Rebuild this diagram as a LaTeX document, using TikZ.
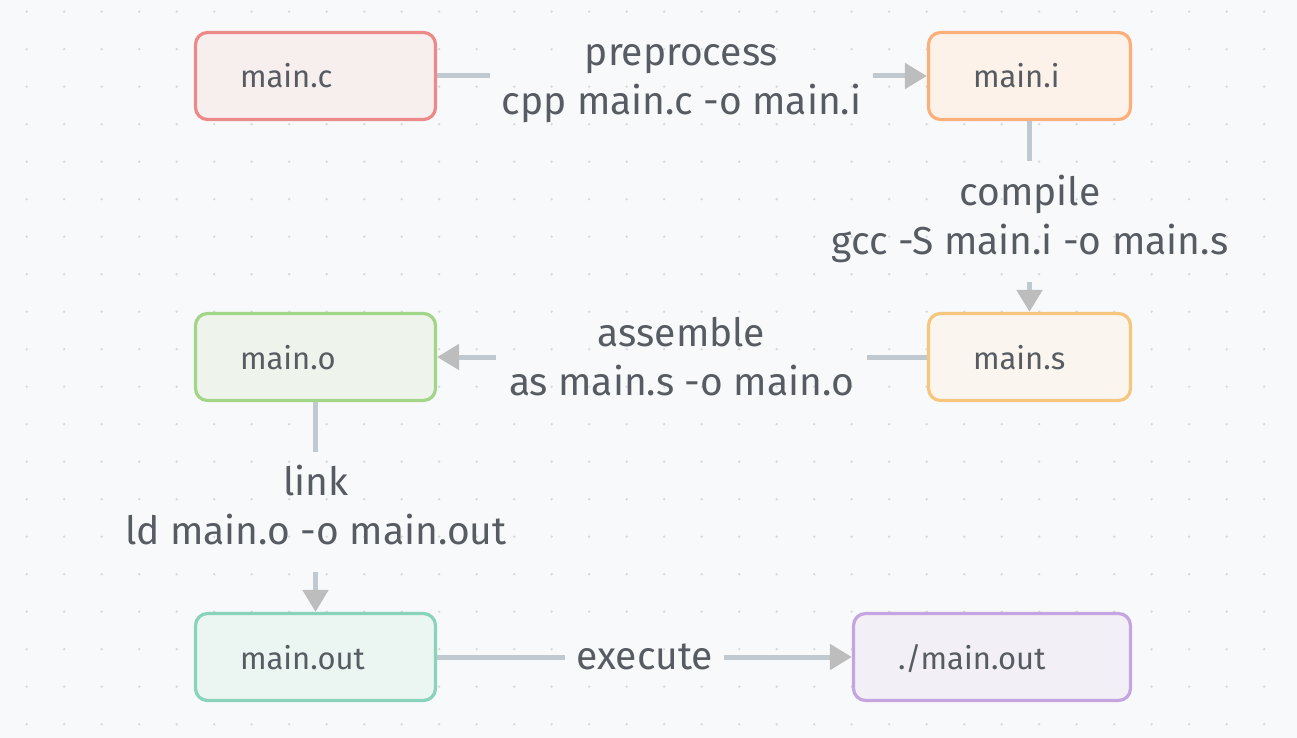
\documentclass[tikz,border=0pt]{standalone}
\usepackage{fontspec}
\setmainfont{Fira Sans}
\usetikzlibrary{arrows.meta}
\definecolor{bg}{HTML}{F8F9FB}
\definecolor{dotc}{HTML}{D5D8DC}
\definecolor{txt}{HTML}{565C62}
\definecolor{linec}{HTML}{C1C9D0}
\definecolor{tipc}{HTML}{BDBDBD}
\definecolor{cB}{HTML}{EC8A8A}\definecolor{cF}{HTML}{F7EEEE}
\definecolor{iB}{HTML}{FBB07C}\definecolor{iF}{HTML}{FCF2EA}
\definecolor{sB}{HTML}{F6C67F}\definecolor{sF}{HTML}{FAF6EF}
\definecolor{oB}{HTML}{A2D587}\definecolor{oF}{HTML}{EEF4EC}
\definecolor{uB}{HTML}{88D3B9}\definecolor{uF}{HTML}{EBF5F2}
\definecolor{xB}{HTML}{C4A5DF}\definecolor{xF}{HTML}{F3EFF7}
\tikzset{
  filebox/.style={draw=#1B, fill=#1F, line width=3.2pt, rounded corners=12pt,
    minimum height=87pt, inner xsep=44.5pt, inner ysep=0pt, align=left,
    text=txt, font=\fontsize{31}{36}\selectfont, text height=30pt, text depth=6pt},
  lbl/.style={inner sep=0pt, align=center, text=txt,
    font=\fontsize{39}{49}\selectfont},
  conn/.style={draw=linec, line width=5pt},
  arr/.style={conn, -{Triangle[length=22pt,width=25pt,color=tipc,fill=tipc]}},
}
\newcommand{\mystrut}{\strut}
\begin{document}
\begin{tikzpicture}[x=1pt,y=-1pt]
\fill[bg] (0,0) rectangle (1297,738);
\useasboundingbox (0,0) rectangle (1297,738);
\foreach \i in {0,...,34}{\foreach \j in {0,...,19}{
  \fill[dotc] (26.7+37.5*\i, 11.7+37.5*\j) circle (1.3pt);}}
% boxes
\node[filebox=c, minimum width=240pt, text width=151pt] (mc) at (315.5,76) {main.c};
\node[filebox=i, minimum width=202pt, text width=113pt] (mi) at (1029.5,76) {main.i};
\node[filebox=s, minimum width=202pt, text width=113pt] (ms) at (1029.5,357) {main.s};
\node[filebox=o, minimum width=240pt, text width=151pt] (mo) at (315.5,357) {main.o};
\node[filebox=u, minimum width=240pt, text width=151pt] (mu) at (315.5,657) {main.out};
\node[filebox=x, minimum width=277pt, text width=188pt] (mx) at (992,657) {./main.out};
% labels
\node[lbl, minimum width=383pt] (lp) at (681.5,80) {\mystrut preprocess\\\mystrut cpp main.c -o main.i};
\node[lbl, minimum height=120pt] (lc) at (1030,219.7) {\mystrut compile\\\mystrut gcc -S main.i -o main.s};
\node[lbl, minimum width=371pt] (la) at (681.5,360.7) {\mystrut assemble\\\mystrut as main.s -o main.o};
\node[lbl, minimum height=120pt] (ll) at (316,509.7) {\mystrut link\\\mystrut ld main.o -o main.out};
\node[lbl, minimum width=159pt] (lx) at (644.5,660) {\mystrut execute};
% connectors
\draw[conn] (mc.east) -- (mc.east -| lp.west);
\draw[arr] (mi.west -| lp.east) -- (mi.west);
\draw[conn] (mi.south) -- ([yshift=-2pt]mi.south |- lc.north);
\draw[arr] ([yshift=-2pt]ms.north |- lc.south) -- (ms.north);
\draw[conn] (ms.west) -- (ms.west -| la.east);
\draw[arr] (mo.east -| la.west) -- (mo.east);
\draw[conn] (mo.south) -- ([yshift=-2pt]mo.south |- ll.north);
\draw[arr] ([yshift=-2pt]mu.north |- ll.south) -- (mu.north);
\draw[conn] (mu.east) -- (mu.east -| lx.west);
\draw[arr] (mx.west -| lx.east) -- (mx.west);
\end{tikzpicture}
\end{document}
